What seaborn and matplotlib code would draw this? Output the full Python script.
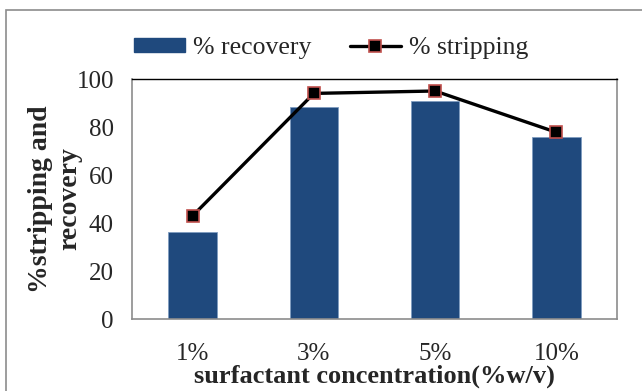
import matplotlib
matplotlib.use("Agg")
import matplotlib.pyplot as plt
import matplotlib.patches as mpatches
from matplotlib.lines import Line2D
import seaborn as sns
import pandas as pd

# Surfactant concentration series
concentrations = ["1%", "3%", "5%", "10%"]
recovery = [36.4, 88.5, 91.0, 75.8]
stripping = [43.0, 94.0, 95.0, 77.8]
y_ticks = [0, 20, 40, 60, 80, 100]

df = pd.DataFrame({"conc": concentrations, "recovery": recovery, "stripping": stripping})

sns.set_style("white")
plt.rcParams["font.family"] = ["Liberation Serif", "DejaVu Serif"]

BAR_BLUE = "#1F497D"
MARK_RED = "#C0504D"
AXIS_GREY = "#8C8C8C"

fig = plt.figure(figsize=(6.42, 3.91), dpi=100)
ax = fig.add_axes([132 / 642, 72 / 391, 485 / 642, 240 / 391])

sns.barplot(data=df, x="conc", y="recovery", order=concentrations, color=BAR_BLUE,
            saturation=1, width=0.4, edgecolor="#7F9CC0", linewidth=0.6, ax=ax, zorder=2)
sns.pointplot(data=df, x="conc", y="stripping", order=concentrations, color="black",
              markers="s", linestyles="-", markersize=8.5, linewidth=2.4,
              markeredgecolor=MARK_RED, markeredgewidth=1.2, ax=ax, zorder=3)

ax.set_xlim(-0.5, 3.5)
ax.set_ylim(0, 100)
ax.set_yticks(y_ticks)
ax.set_yticklabels([str(v) for v in y_ticks], fontsize=18)
ax.set_xticks(range(len(concentrations)))
ax.set_xticklabels(concentrations, fontsize=18)
ax.set_xticks([i - 0.5 for i in range(len(concentrations) + 1)], minor=True)
ax.tick_params(axis="x", which="major", length=0, pad=17)
ax.tick_params(axis="x", which="minor", length=6, width=1, color=AXIS_GREY, direction="out")
ax.tick_params(axis="y", which="major", length=6, width=1, color=AXIS_GREY, direction="out", pad=7)

for side in ("left", "bottom", "right"):
    ax.spines[side].set_visible(True)
    ax.spines[side].set_color(AXIS_GREY)
    ax.spines[side].set_linewidth(1.2)
ax.spines["top"].set_visible(True)
ax.spines["top"].set_color("black")
ax.spines["top"].set_linewidth(1.0)

ax.set_xlabel("surfactant concentration(%w/v)", fontsize=19, fontweight="bold", labelpad=0)
ax.set_ylabel("%stripping and\nrecovery", fontsize=20, fontweight="bold", labelpad=-4,
              linespacing=1.2)

handles = [
    mpatches.Patch(facecolor=BAR_BLUE, edgecolor=BAR_BLUE, label="% recovery"),
    Line2D([0], [0], color="black", lw=2.4, marker="s", markersize=8.5,
           markerfacecolor="black", markeredgecolor=MARK_RED, markeredgewidth=1.2,
           label="% stripping"),
]
fig.legend(handles=handles, loc="center", bbox_to_anchor=(331 / 642, 1 - 48 / 391),
           ncol=2, frameon=False, fontsize=18.5, handlelength=2.0, handleheight=0.45,
           columnspacing=1.5, handletextpad=0.3)

# Chart area border
fig.patches.append(mpatches.Rectangle((6 / 642, -0.1), 1.2, 1.1 - 10 / 391,
                                      transform=fig.transFigure, fill=False,
                                      edgecolor=AXIS_GREY, linewidth=1.2))

fig.savefig("out.png", dpi=100)
